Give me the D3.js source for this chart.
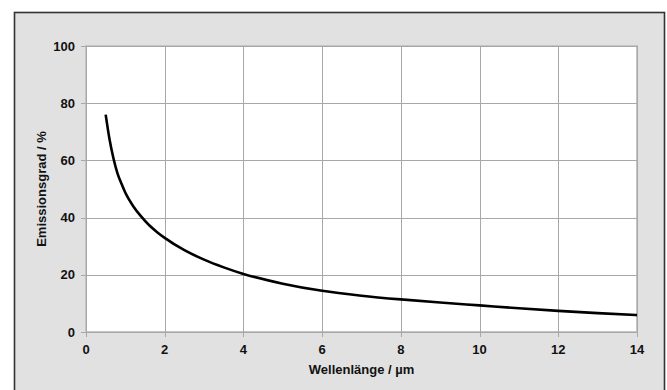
<!DOCTYPE html>
<html>
<head>
<meta charset="utf-8">
<script src="https://cdn.jsdelivr.net/npm/d3@7"></script>
<style>
  body { margin: 0; background: #fff; }
  svg { display: block; font-family: "Liberation Sans", Arial, sans-serif; }
</style>
</head>
<body>
<svg id="chart" width="667" height="390"></svg>
<script>
// Wellenlänge (µm) and Emissionsgrad (%)
const wavelength = [0.5, 0.6, 0.7, 0.8, 0.9, 1.0, 1.2, 1.4, 1.6, 1.8, 2.0, 2.5, 3.0, 3.5, 4.0, 5.0, 6.0, 7.0, 8.0, 9.0, 10.0, 11.0, 12.0, 13.0, 14.0];
const emissivity = [76, 67.2, 60.6, 55.5, 51.9, 48.7, 44.0, 40.4, 37.4, 35.0, 32.9, 28.6, 25.3, 22.6, 20.3, 16.9, 14.4, 12.7, 11.4, 10.3, 9.3, 8.3, 7.4, 6.6, 5.9];
const xTicks = [0, 2, 4, 6, 8, 10, 12, 14];
const yTicks = [0, 20, 40, 60, 80, 100];

const svg = d3.select('#chart');
const plot = { left: 86, top: 46, right: 637, bottom: 332 };

// outer panel
svg.append('rect')
  .attr('x', 14.5).attr('y', 12.5)
  .attr('width', 650).attr('height', 400)
  .attr('fill', '#e1e1e1')
  .attr('stroke', '#333').attr('stroke-width', 1.6);

const x = d3.scaleLinear().domain([0, 14]).range([plot.left, plot.right]);
const y = d3.scaleLinear().domain([0, 100]).range([plot.bottom, plot.top]);

svg.append('rect')
  .attr('x', plot.left).attr('y', plot.top)
  .attr('width', plot.right - plot.left).attr('height', plot.bottom - plot.top)
  .attr('fill', '#fff')
  .attr('stroke', '#c4c4c4').attr('stroke-width', 2);

// grid
const grid = svg.append('g').attr('stroke', '#a8a8a8').attr('stroke-width', 1);
grid.selectAll('line.v').data(xTicks).join('line')
  .attr('x1', d => Math.round(x(d)) + 0.5).attr('x2', d => Math.round(x(d)) + 0.5)
  .attr('y1', plot.top).attr('y2', plot.bottom + 5);
grid.selectAll('line.h').data(yTicks).join('line')
  .attr('y1', d => Math.round(y(d)) + 0.5).attr('y2', d => Math.round(y(d)) + 0.5)
  .attr('x1', plot.left - 5).attr('x2', plot.right);

// tick labels
svg.append('g')
  .selectAll('text').data(xTicks).join('text')
  .attr('x', d => x(d)).attr('y', plot.bottom + 22)
  .attr('text-anchor', 'middle')
  .attr('font-size', 13).attr('font-weight', 'bold').attr('fill', '#111')
  .text(d => d);

svg.append('g')
  .selectAll('text').data(yTicks).join('text')
  .attr('x', plot.left - 11).attr('y', d => y(d) + 4.5)
  .attr('text-anchor', 'end')
  .attr('font-size', 13).attr('font-weight', 'bold').attr('fill', '#111')
  .text(d => d);

// axis titles
svg.append('text')
  .attr('x', (plot.left + plot.right) / 2).attr('y', plot.bottom + 42)
  .attr('text-anchor', 'middle')
  .attr('font-size', 13).attr('font-weight', 'bold').attr('fill', '#111')
  .text('Wellenlänge / µm');

svg.append('text')
  .attr('transform', `translate(46,${(plot.top + plot.bottom) / 2}) rotate(-90)`)
  .attr('text-anchor', 'middle')
  .attr('font-size', 13).attr('font-weight', 'bold').attr('fill', '#111')
  .text('Emissionsgrad / %');

// curve
const line = d3.line()
  .x((d, i) => x(wavelength[i]))
  .y(d => y(d))
  .curve(d3.curveMonotoneX);

svg.append('path')
  .datum(emissivity)
  .attr('d', line)
  .attr('fill', 'none')
  .attr('stroke', '#000')
  .attr('stroke-width', 2.6);
</script>
</body>
</html>
